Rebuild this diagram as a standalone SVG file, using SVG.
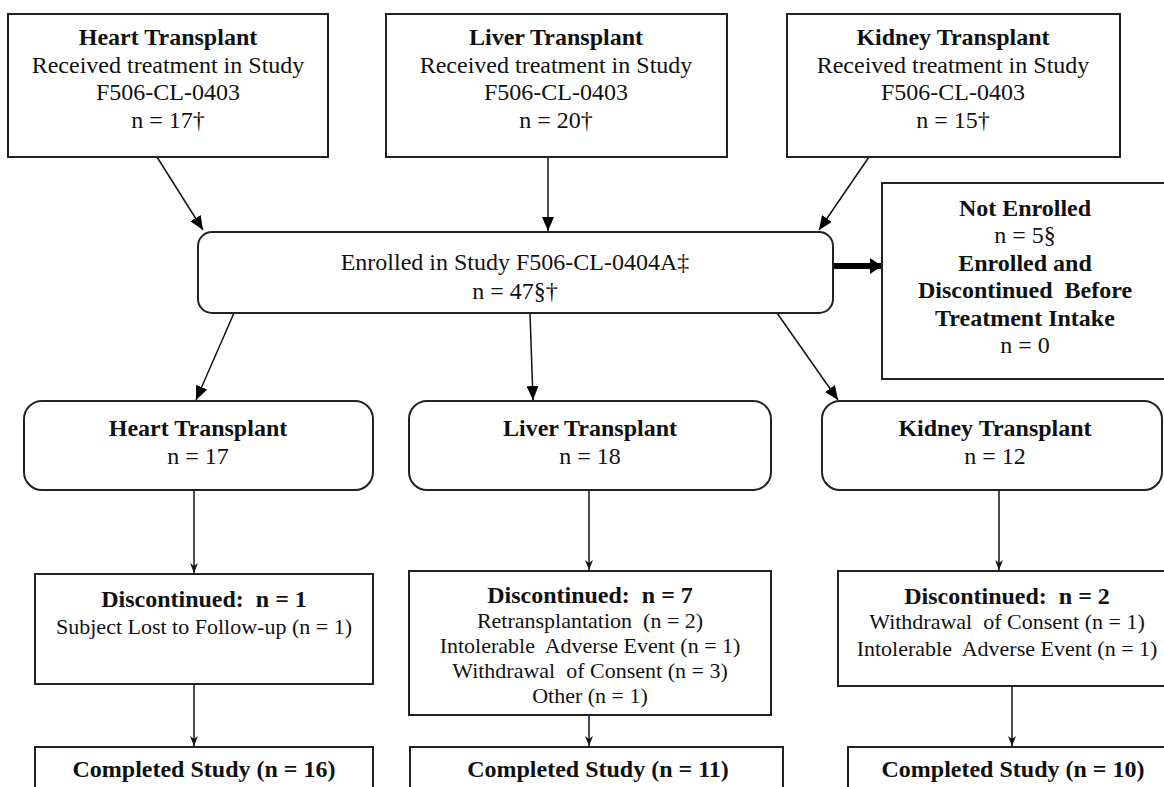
<svg xmlns="http://www.w3.org/2000/svg" width="1164" height="787" viewBox="0 0 1164 787">
<style>
.box{fill:#fff;stroke:#222;stroke-width:2}
.t{font-family:"Liberation Serif","Times New Roman",serif;font-size:24px;text-anchor:middle;fill:#111;white-space:pre}
.b{font-weight:bold}
.s{font-size:22px}
.c{stroke:#111;stroke-width:1.5;fill:none}
.thick{stroke:#000;stroke-width:6;fill:none}
</style>
<defs>
<marker id="big" viewBox="0 0 14 12" refX="14" refY="6" markerWidth="14" markerHeight="12" markerUnits="userSpaceOnUse" orient="auto"><path d="M0,0 L14,6 L0,12 z" fill="#000"/></marker>
<marker id="small" viewBox="0 0 10 8" refX="10" refY="4" markerWidth="10" markerHeight="8" markerUnits="userSpaceOnUse" orient="auto"><path d="M0,0 L10,4 L0,8 L3,4 z" fill="#111"/></marker>
<marker id="fat" viewBox="0 0 12 16" refX="12" refY="8" markerWidth="12" markerHeight="16" markerUnits="userSpaceOnUse" orient="auto"><path d="M0,0 L12,8 L0,16 z" fill="#000"/></marker>
</defs>
<rect width="1164" height="787" fill="#fff"/>
<g id="connectors">
<line class="c" x1="157" y1="157" x2="203" y2="230" marker-end="url(#big)"/>
<line class="c" x1="548" y1="157" x2="548" y2="231" marker-end="url(#big)"/>
<line class="c" x1="869" y1="157" x2="819" y2="230" marker-end="url(#big)"/>
<line class="thick" x1="833" y1="266" x2="882" y2="266" marker-end="url(#fat)"/>
<line class="c" x1="234" y1="313" x2="196" y2="400" marker-end="url(#big)"/>
<line class="c" x1="530" y1="313" x2="533" y2="400" marker-end="url(#big)"/>
<line class="c" x1="777" y1="313" x2="838" y2="400" marker-end="url(#big)"/>
<line class="c" x1="194" y1="490" x2="194" y2="573" marker-end="url(#small)"/>
<line class="c" x1="589" y1="490" x2="589" y2="570" marker-end="url(#small)"/>
<line class="c" x1="999" y1="490" x2="999" y2="570" marker-end="url(#small)"/>
<line class="c" x1="194" y1="684" x2="194" y2="746" marker-end="url(#small)"/>
<line class="c" x1="589" y1="715" x2="589" y2="746" marker-end="url(#small)"/>
<line class="c" x1="1012" y1="686" x2="1012" y2="746" marker-end="url(#small)"/>
</g>
<g id="top-heart">
<rect class="box" x="8" y="14" width="320" height="143"/>
<text class="t b" x="168" y="45">Heart Transplant</text>
<text class="t" x="168" y="73">Received treatment in Study</text>
<text class="t" x="168" y="100">F506-CL-0403</text>
<text class="t" x="168" y="128">n = 17†</text>
</g>
<g id="top-liver">
<rect class="box" x="386" y="14" width="341" height="143"/>
<text class="t b" x="556" y="45">Liver Transplant</text>
<text class="t" x="556" y="73">Received treatment in Study</text>
<text class="t" x="556" y="100">F506-CL-0403</text>
<text class="t" x="556" y="128">n = 20†</text>
</g>
<g id="top-kidney">
<rect class="box" x="787" y="14" width="333" height="143"/>
<text class="t b" x="953" y="45">Kidney Transplant</text>
<text class="t" x="953" y="73">Received treatment in Study</text>
<text class="t" x="953" y="100">F506-CL-0403</text>
<text class="t" x="953" y="128">n = 15†</text>
</g>
<g id="enrolled">
<rect class="box" x="198" y="232" width="635" height="81" rx="14"/>
<text class="t" x="515" y="270">Enrolled in Study F506-CL-0404A‡</text>
<text class="t" x="515" y="299">n = 47§†</text>
</g>
<g id="not-enrolled">
<rect class="box" x="882" y="183" width="290" height="196"/>
<text class="t b" x="1025" y="216">Not Enrolled</text>
<text class="t" x="1025" y="243">n = 5§</text>
<text class="t b" x="1025" y="271">Enrolled and</text>
<text class="t b" x="1025" y="298">Discontinued  Before</text>
<text class="t b" x="1025" y="326">Treatment Intake</text>
<text class="t" x="1025" y="353">n = 0</text>
</g>
<g id="mid-heart">
<rect class="box" x="24" y="401" width="349" height="89" rx="18"/>
<text class="t b" x="198" y="436">Heart Transplant</text>
<text class="t" x="198" y="464">n = 17</text>
</g>
<g id="mid-liver">
<rect class="box" x="409" y="401" width="362" height="89" rx="18"/>
<text class="t b" x="590" y="436">Liver Transplant</text>
<text class="t" x="590" y="464">n = 18</text>
</g>
<g id="mid-kidney">
<rect class="box" x="822" y="401" width="340" height="89" rx="18"/>
<text class="t b" x="995" y="436">Kidney Transplant</text>
<text class="t" x="995" y="464">n = 12</text>
</g>
<g id="disc-heart">
<rect class="box" x="35" y="574" width="338" height="110"/>
<text class="t b" x="204" y="607">Discontinued:  n = 1</text>
<text class="t s" x="204" y="634">Subject Lost to Follow-up (n = 1)</text>
</g>
<g id="disc-liver">
<rect class="box" x="409" y="571" width="362" height="144"/>
<text class="t b" x="590" y="603">Discontinued:  n = 7</text>
<text class="t s" x="590" y="628">Retransplantation  (n = 2)</text>
<text class="t s" x="590" y="653">Intolerable  Adverse Event (n = 1)</text>
<text class="t s" x="590" y="678">Withdrawal  of Consent (n = 3)</text>
<text class="t s" x="590" y="703">Other (n = 1)</text>
</g>
<g id="disc-kidney">
<rect class="box" x="838" y="571" width="340" height="115"/>
<text class="t b" x="1007" y="604">Discontinued:  n = 2</text>
<text class="t s" x="1007" y="629">Withdrawal  of Consent (n = 1)</text>
<text class="t s" x="1007" y="656">Intolerable  Adverse Event (n = 1)</text>
</g>
<g id="comp-heart">
<rect class="box" x="35" y="747" width="338" height="60"/>
<text class="t b" x="204" y="777">Completed Study (n = 16)</text>
</g>
<g id="comp-liver">
<rect class="box" x="410" y="747" width="373" height="60"/>
<text class="t b" x="598" y="777">Completed Study (n = 11)</text>
</g>
<g id="comp-kidney">
<rect class="box" x="848" y="747" width="330" height="60"/>
<text class="t b" x="1013" y="777">Completed Study (n = 10)</text>
</g>
</svg>
